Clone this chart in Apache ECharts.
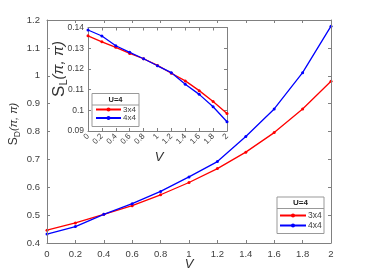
<!DOCTYPE html>
<html>
<head>
<meta charset="utf-8">
<script src="https://cdn.jsdelivr.net/npm/echarts@6/dist/echarts.min.js"></script>
<style>html,body{margin:0;padding:0;background:#fff}#c{width:365px;height:274px}</style>
</head>
<body>
<div id="c"></div>
<script>
// Data
var V = [0, 0.2, 0.4, 0.6, 0.8, 1.0, 1.2, 1.4, 1.6, 1.8, 2.0];
var SD_3x4 = [0.446, 0.472, 0.503, 0.534, 0.573, 0.617, 0.667, 0.726, 0.796, 0.881, 0.980];
var SD_4x4 = [0.432, 0.459, 0.503, 0.541, 0.585, 0.637, 0.692, 0.782, 0.881, 1.011, 1.178];
var SL_3x4 = [0.1360, 0.1331, 0.1304, 0.1275, 0.1249, 0.1217, 0.1179, 0.1142, 0.1095, 0.1043, 0.0984];
var SL_4x4 = [0.1388, 0.1359, 0.1312, 0.1280, 0.1249, 0.1215, 0.1182, 0.1126, 0.1077, 0.1017, 0.0945];
var seriesNames = ['3x4', '4x4'];
var legendTitle = 'U=4';
var xTickLabels = ['0', '0.2', '0.4', '0.6', '0.8', '1', '1.2', '1.4', '1.6', '1.8', '2'];

function pairs(xs, ys) { return xs.map(function (x, i) { return [x, ys[i]]; }); }
function fmt(v) { return String(parseFloat(v.toFixed(3))); }
function xfmt(v) { var i = Math.round(v / 0.2); return xTickLabels[i] !== undefined ? xTickLabels[i] : fmt(v); }

var FONT = 'Liberation Sans';
var AX = '#808080';
var TXT = '#404040';

function baseAxis(o) {
  var a = {
    type: 'value',
    z: 3,
    axisLine: { show: true, onZero: false, lineStyle: { color: AX, width: 1 } },
    axisTick: { show: true, inside: true, length: 3, lineStyle: { color: AX } },
    splitLine: { show: false },
    axisLabel: { show: false }
  };
  for (var k in o) a[k] = o[k];
  return a;
}

var chart = echarts.init(document.getElementById('c'), null, { renderer: 'canvas' });
var mainGrid = { left: 47, right: 34, top: 20, bottom: 31, show: false };
var insetGrid = { left: 88, top: 27.5, width: 139, height: 103.5, show: true, backgroundColor: '#fff', borderWidth: 0, z: 0 };

var option = {
  animation: false,
  backgroundColor: '#fff',
  grid: [mainGrid, insetGrid],
  xAxis: [
    baseAxis({ gridIndex: 0, position: 'bottom', min: 0, max: 2, interval: 0.2,
      axisLabel: { show: true, formatter: xfmt, color: TXT, fontFamily: FONT, fontSize: 9.5, margin: 6 } }),
    baseAxis({ gridIndex: 0, position: 'top', min: 0, max: 2, interval: 0.2 }),
    baseAxis({ gridIndex: 1, position: 'bottom', min: 0, max: 2, interval: 0.2,
      axisLabel: { show: true, formatter: xfmt, rotate: 45, color: TXT, fontFamily: FONT, fontSize: 8, margin: 4 } }),
    baseAxis({ gridIndex: 1, position: 'top', min: 0, max: 2, interval: 0.2 })
  ],
  yAxis: [
    baseAxis({ gridIndex: 0, position: 'left', min: 0.4, max: 1.2, interval: 0.1,
      axisLabel: { show: true, formatter: fmt, color: TXT, fontFamily: FONT, fontSize: 9.5, margin: 7 } }),
    baseAxis({ gridIndex: 0, position: 'right', min: 0.4, max: 1.2, interval: 0.1 }),
    baseAxis({ gridIndex: 1, position: 'left', min: 0.09, max: 0.14, interval: 0.01,
      axisLabel: { show: true, formatter: fmt, color: TXT, fontFamily: FONT, fontSize: 8.5, margin: 4 } }),
    baseAxis({ gridIndex: 1, position: 'right', min: 0.09, max: 0.14, interval: 0.01 })
  ],
  legend: [
    { data: seriesNames, orient: 'vertical', left: 279, top: 211, padding: 0, itemWidth: 26, itemHeight: 5, itemGap: 1,
      textStyle: { fontFamily: FONT, fontSize: 8.5, color: TXT, padding: [0, 0, 0, -3] }, selectedMode: false, z: 6 },
    { data: seriesNames, orient: 'vertical', left: 95, top: 105.5, padding: 0, itemWidth: 25, itemHeight: 5, itemGap: 0.5,
      textStyle: { fontFamily: FONT, fontSize: 8, color: TXT, padding: [0, 0, 0, -3] }, selectedMode: false, z: 6 }
  ],
  series: [
    { name: seriesNames[0], type: 'line', xAxisIndex: 0, yAxisIndex: 0, data: pairs(V, SD_3x4),
      color: '#ff0000', symbol: 'circle', symbolSize: 3, lineStyle: { width: 1.3 }, z: 2 },
    { name: seriesNames[1], type: 'line', xAxisIndex: 0, yAxisIndex: 0, data: pairs(V, SD_4x4),
      color: '#0000ff', symbol: 'circle', symbolSize: 3, lineStyle: { width: 1.3 }, z: 2 },
    { name: seriesNames[0], type: 'line', xAxisIndex: 2, yAxisIndex: 2, data: pairs(V, SL_3x4),
      color: '#ff0000', symbol: 'circle', symbolSize: 3, lineStyle: { width: 1.3 }, z: 4 },
    { name: seriesNames[1], type: 'line', xAxisIndex: 2, yAxisIndex: 2, data: pairs(V, SL_4x4),
      color: '#0000ff', symbol: 'circle', symbolSize: 3, lineStyle: { width: 1.3 }, z: 4 }
  ],
  graphic: [
    // main legend box
    { type: 'rect', z: 5, shape: { x: 277, y: 197, width: 47, height: 36.5 }, style: { fill: '#fff', stroke: '#999', lineWidth: 1 } },
    { type: 'line', z: 5, shape: { x1: 277, y1: 208.5, x2: 324, y2: 208.5 }, style: { stroke: '#999', lineWidth: 1 } },
    { type: 'text', z: 6, x: 300.5, y: 203, style: { text: legendTitle, font: 'bold 8px "Liberation Sans"', fill: '#222', align: 'center', verticalAlign: 'middle' } },
    // inset legend box
    { type: 'rect', z: 5, shape: { x: 92, y: 93.5, width: 47, height: 33 }, style: { fill: '#fff', stroke: '#999', lineWidth: 1 } },
    { type: 'line', z: 5, shape: { x1: 92, y1: 105, x2: 139, y2: 105 }, style: { stroke: '#999', lineWidth: 1 } },
    { type: 'text', z: 6, x: 115.5, y: 99.5, style: { text: legendTitle, font: 'bold 7.5px "Liberation Sans"', fill: '#222', align: 'center', verticalAlign: 'middle' } },
    // axis titles
    { type: 'text', z: 6, x: 189, y: 264, style: { text: 'V', font: 'italic 13px "Liberation Sans"', fill: '#333', align: 'center', verticalAlign: 'middle' } },
    { type: 'text', z: 6, x: 159, y: 157, style: { text: 'V', font: 'italic 13px "Liberation Sans"', fill: '#333', align: 'center', verticalAlign: 'middle' } },
    { type: 'text', z: 6, x: 14, y: 124, rotation: Math.PI / 2,
      style: { text: '{s|S}{b|D}{p|(π, π)}', align: 'center', verticalAlign: 'middle', fill: '#333',
        rich: {
          s: { fontFamily: FONT, fontSize: 12, lineHeight: 16, fill: '#333' },
          b: { fontFamily: FONT, fontSize: 8.5, lineHeight: 9, verticalAlign: 'bottom', fill: '#333' },
          p: { fontFamily: FONT, fontStyle: 'italic', fontSize: 11, lineHeight: 16, fill: '#333' }
        } } },
    { type: 'text', z: 6, x: 59, y: 69, rotation: Math.PI / 2,
      style: { text: '{s|S}{b|L}{p|(π, π)}', align: 'center', verticalAlign: 'middle', fill: '#333',
        rich: {
          s: { fontFamily: FONT, fontSize: 17, lineHeight: 21, fill: '#333' },
          b: { fontFamily: FONT, fontSize: 11, lineHeight: 11, verticalAlign: 'bottom', fill: '#333' },
          p: { fontFamily: FONT, fontStyle: 'italic', fontSize: 15, lineHeight: 21, fill: '#333' }
        } } }
  ]
};
chart.setOption(option);
</script>
</body>
</html>
